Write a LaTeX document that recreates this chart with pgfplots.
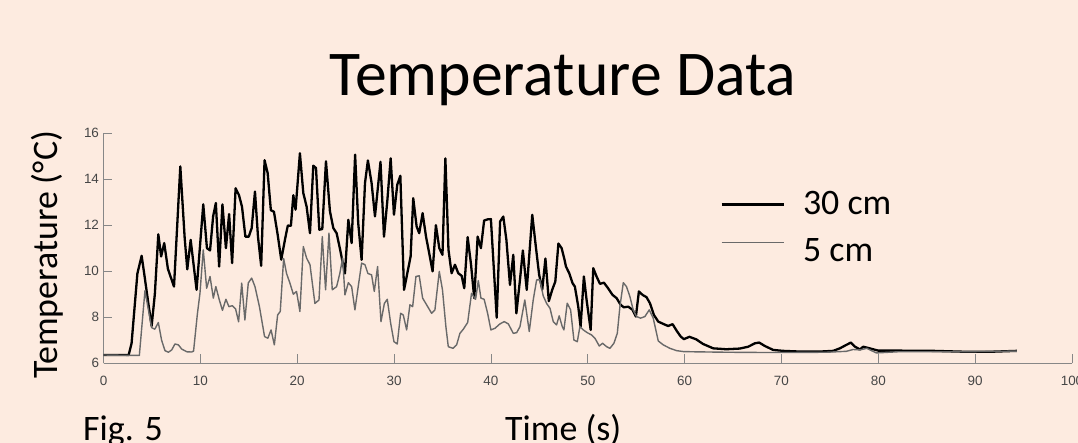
\documentclass[border=0pt]{standalone}
\usepackage{fontspec}
\setmainfont{Carlito}
\newfontfamily\arialf{Liberation Sans}
\usepackage{pgfplots}
\pgfplotsset{compat=1.18}
\usepackage{pgfplotstable}

\definecolor{bgc}{RGB}{253,235,224}
\definecolor{axgray}{RGB}{135,135,135}
\definecolor{tickgray}{RGB}{70,70,70}
\definecolor{fivegray}{RGB}{105,105,105}

% 30 cm probe
\pgfplotstableread{
t T
0 6.36
2.6 6.36
2.9 6.87
3.5 9.9
3.94 10.67
4.3 9.6
4.63 8.6
4.97 7.62
5.3 9.0
5.66 11.6
5.95 10.64
6.27 11.22
6.65 10.1
7.28 9.33
7.93 14.55
8.38 11.45
8.65 10.08
9.0 11.36
9.61 9.19
10.3 12.9
10.68 11.0
11.0 10.9
11.32 12.38
11.6 12.96
11.94 10.2
12.28 12.9
12.64 11.0
12.97 12.48
13.28 10.35
13.64 13.6
13.99 13.3
14.3 12.8
14.65 11.5
15.0 11.5
15.3 11.87
15.64 13.46
15.95 11.5
16.28 10.23
16.63 14.82
16.95 14.26
17.28 12.65
17.6 12.58
17.97 11.62
18.35 10.5
18.72 11.33
19.03 11.98
19.35 11.97
19.6 13.3
19.83 12.67
20.28 15.12
20.63 13.39
20.97 12.81
21.32 11.65
21.66 14.58
21.94 14.48
22.28 11.8
22.59 11.83
22.97 14.77
23.38 12.6
23.73 11.87
24.07 11.65
24.4 11.0
24.93 9.9
25.28 12.23
25.62 11.22
25.98 15.06
26.3 12.09
26.65 10.49
27.0 13.83
27.3 14.81
27.68 13.83
28.03 12.38
28.6 14.75
28.96 11.5
29.3 13.03
29.65 14.9
29.99 12.45
30.33 13.75
30.65 14.14
31.03 9.19
31.37 9.91
31.71 10.64
31.98 13.17
32.33 11.94
32.6 11.65
32.95 12.52
33.3 11.5
33.63 10.78
33.98 9.99
34.32 12.0
34.67 11.0
35.0 10.71
35.3 14.9
35.62 10.93
35.94 9.91
36.29 10.28
36.63 9.91
36.98 9.8
37.25 9.26
37.6 11.48
37.95 10.28
38.28 8.83
38.63 11.5
38.97 11.0
39.3 12.2
39.66 12.25
40.0 12.26
40.6 7.98
40.95 12.16
41.28 12.37
41.6 11.36
41.97 9.4
42.31 10.71
42.63 8.17
43.0 9.62
43.3 10.9
43.7 9.19
44.27 12.45
44.63 11.1
44.98 9.85
45.3 9.2
45.63 10.55
45.98 8.7
46.33 9.19
46.65 9.55
46.97 11.2
47.3 11.0
47.6 10.5
47.75 10.2
48.09 9.91
48.43 9.48
48.67 9.33
49.02 8.46
49.26 7.59
49.6 9.77
49.88 8.75
50.3 7.45
50.57 10.13
50.91 9.77
51.26 9.45
51.67 9.5
52.1 9.26
52.56 8.97
52.98 8.83
53.39 8.54
53.73 8.43
54.18 8.46
54.63 8.32
54.97 8.03
55.28 9.12
55.66 8.97
56.07 8.87
56.42 8.61
56.83 8.1
57.28 7.81
57.8 7.71
58.3 7.62
58.76 7.7
59.2 7.4
59.6 7.16
59.93 7.05
60.5 7.15
61.2 7.04
61.9 6.84
62.95 6.65
64.3 6.61
65.7 6.64
66.57 6.72
67.26 6.87
67.7 6.9
68.29 6.75
69.15 6.58
70.18 6.54
71.9 6.51
73.96 6.51
75.34 6.54
76.03 6.65
76.7 6.8
77.17 6.9
77.6 6.72
78.1 6.6
78.44 6.72
79.1 6.65
80.0 6.55
82.2 6.55
85.7 6.54
89.1 6.5
91.5 6.5
94.3 6.54
}\thirty

% 5 cm probe
\pgfplotstableread{
t T
0 6.36
3.7 6.34
4.28 9.15
4.97 7.55
5.3 7.48
5.66 7.77
6.0 7.0
6.35 6.55
6.7 6.48
7.04 6.58
7.38 6.84
7.73 6.8
8.07 6.62
8.6 6.5
9.1 6.49
9.3 6.53
9.7 8.17
9.96 9.04
10.3 10.93
10.65 9.26
11.0 9.77
11.34 8.83
11.6 9.33
11.94 8.78
12.28 8.3
12.64 8.78
12.95 8.46
13.3 8.5
13.64 8.36
13.95 7.8
14.27 9.48
14.6 7.88
14.95 9.49
15.3 9.7
15.64 9.33
16.1 8.46
16.63 7.16
16.97 7.09
17.3 7.45
17.64 6.8
17.98 8.1
18.25 8.25
18.6 10.55
18.9 9.9
19.25 9.48
19.6 9.0
19.93 9.12
20.28 8.25
20.63 11.07
20.97 10.57
21.32 10.28
21.83 8.6
22.25 8.75
22.59 11.5
22.93 9.19
23.28 11.65
23.62 9.19
24.07 9.33
24.4 9.9
24.69 10.57
24.93 8.97
25.28 9.5
25.62 9.33
25.96 8.32
26.3 9.33
26.65 10.35
27.0 10.28
27.3 9.9
27.68 9.84
27.96 9.12
28.3 10.2
28.65 7.81
29.0 8.6
29.3 8.78
29.65 7.74
29.99 6.94
30.33 6.84
30.68 8.17
30.95 8.1
31.3 7.45
31.64 8.54
31.92 8.46
32.26 9.77
32.6 9.8
32.95 8.83
33.36 8.54
33.88 8.17
34.22 8.32
34.67 9.99
35.0 9.19
35.35 7.6
35.6 6.72
36.1 6.65
36.46 6.8
36.8 7.3
37.15 7.48
37.6 7.77
38.0 9.04
38.42 8.78
38.7 9.59
38.97 8.83
39.3 8.78
39.66 8.17
40.0 7.45
40.42 7.52
40.93 7.71
41.38 7.81
41.8 7.71
42.31 7.3
42.66 7.33
43.0 7.59
43.5 8.75
43.96 7.38
44.37 8.75
44.72 9.62
45.06 9.62
45.4 8.93
45.75 8.6
46.1 8.39
46.44 7.81
46.78 7.67
47.05 8.06
47.37 7.59
47.54 7.45
47.88 8.61
48.23 8.32
48.57 7.01
48.92 6.94
49.19 7.59
49.54 7.45
49.95 7.33
50.4 7.23
50.74 7.09
51.19 6.75
51.53 6.87
51.95 6.72
52.29 6.65
52.7 6.87
53.05 7.3
53.32 8.46
53.67 9.5
54.0 9.33
54.35 8.9
54.69 8.32
55.04 8.03
55.45 7.96
55.9 8.03
56.35 8.32
56.76 7.96
57.28 6.97
57.8 6.8
58.48 6.65
59.17 6.55
59.86 6.51
60.9 6.5
64.3 6.48
67.8 6.47
71.2 6.47
74.65 6.48
76.7 6.52
77.4 6.6
78.1 6.58
78.8 6.65
79.8 6.45
82.0 6.5
88.0 6.5
94.3 6.53
}\five

\begin{document}
\begin{tikzpicture}
\fill[bgc] (0,0) rectangle (1078bp,443bp);
\useasboundingbox (0,0) rectangle (1078bp,443bp);
\begin{axis}[
  at={(103.5bp,79.7bp)}, anchor=south west,
  scale only axis, width=968.5bp, height=230.3bp,
  xmin=0, xmax=100, ymin=6, ymax=16,
  xtick={0,10,...,100}, ytick={6,8,...,16},
  axis x line*=bottom, axis y line*=left,
  axis line style={draw=axgray, line width=1bp, -},
  tick style={draw=axgray, line width=0.8bp},
  tick align=inside, major tick length=9bp,
  /pgf/number format/assume math mode=true,
  tick label style={font=\arialf\fontsize{13.5}{14}\selectfont, text=tickgray},
  xticklabel style={yshift=-9bp},
  yticklabel style={xshift=-1bp},
  legend style={at={(axis cs:63.66,13.45)}, anchor=north west, draw=none, fill=none,
    inner sep=0pt, font=\fontsize{36}{36}\selectfont,
    nodes={inner sep=0pt, text height=23bp, text depth=24bp},
    /tikz/every odd column/.append style={column sep=18bp}},
  legend cell align=left,
]
\addplot[black, line width=2.3bp, line join=round,
  legend image code/.code={\draw[black, line width=2.8bp] (0bp,11bp) -- (62bp,11bp);}]
  table[x=t, y=T] {\thirty};
\addlegendentry{30 cm}
\addplot[fivegray, line width=1.4bp, line join=round,
  legend image code/.code={\draw[fivegray, line width=1.2bp] (0bp,20bp) -- (62bp,20bp);}]
  table[x=t, y=T] {\five};
\addlegendentry{5 cm}
\end{axis}
\node[anchor=base, font=\fontsize{64}{64}\selectfont] at (563bp,347bp) {Temperature Data};
\node[rotate=90, font=\fontsize{36}{36}\selectfont] at (47bp,188bp) {Temperature (°C)};
\node[anchor=base west, inner sep=0pt, font=\fontsize{36}{36}\selectfont] at (83bp,3bp) {Fig. 5};
\node[anchor=base west, inner sep=0pt, font=\fontsize{36}{36}\selectfont] at (505bp,3bp) {Time (s)};
\end{tikzpicture}
\end{document}
